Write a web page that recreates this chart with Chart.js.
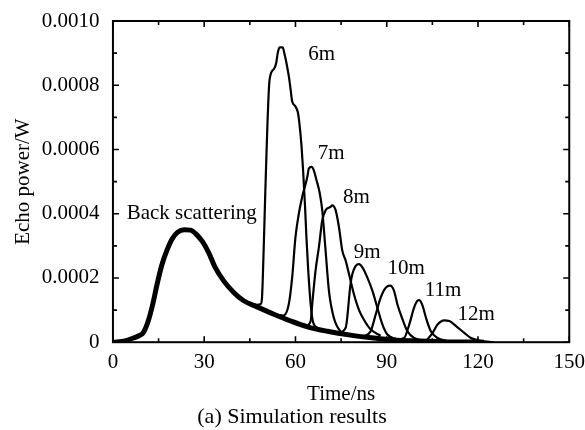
<!DOCTYPE html>
<html>
<head>
<meta charset="utf-8">
<script src="https://cdn.jsdelivr.net/npm/chart.js@4.4.1/dist/chart.umd.min.js"></script>
<style>
  html, body { margin: 0; padding: 0; background: #fff; }
  #wrap { width: 585px; height: 430px; }
</style>
</head>
<body>
<div id="wrap"><canvas id="echoChart"></canvas></div>
<script>
// echo power (W) against time (ns) for the back scattering and each target distance
const backTime  = [0, 4, 6.7, 8.5, 10, 11.6, 13, 14.5, 16, 17.7, 19.5, 21.2, 23.5, 25.5, 27.5, 29.5, 31.5, 33.6, 36.4, 39.7, 43, 47.4, 52.9, 58.4, 63.9, 70.5, 78.1, 85.8, 92.4, 100, 110, 122];
const backPower = [0, 0.000004, 0.000013, 0.00002, 0.00003, 0.000066, 0.000115, 0.00018, 0.000238, 0.000285, 0.000322, 0.000342, 0.00035, 0.000349, 0.000335, 0.000312, 0.000278, 0.000233, 0.000191, 0.000155, 0.000129, 0.00011, 0.000087, 0.000066, 0.000048, 0.000034, 0.000022, 0.000013, 0.000007, 0.000004, 0.000001, 0];

const time6m  = [44, 47.4, 48.6, 49.0, 49.6, 50.1, 51.5, 52.9, 53.7, 54.2, 54.8, 55.8, 56.4, 57.0, 57.8, 58.4, 58.9, 60.0, 60.8, 61.4, 62.0, 62.5, 63.1, 63.6, 64.2, 65.0, 65.7, 67.2, 70.5];
const power6m = [0.000125, 0.000116, 0.000119, 0.000139, 0.000306, 0.000473, 0.000818, 0.00085, 0.000871, 0.000902, 0.000918, 0.000918, 0.000897, 0.000871, 0.000829, 0.000787, 0.00075, 0.000734, 0.000715, 0.000672, 0.000609, 0.000536, 0.000432, 0.000327, 0.000223, 0.000118, 0.000066, 0.000045, 0.000034];

const time7m  = [54, 56, 57.8, 58.9, 60.0, 61.1, 62.2, 63.9, 64.4, 65.3, 66.0, 66.9, 68.0, 68.8, 69.9, 71.0, 72.6, 74.8, 78];
const power7m = [0.000085, 0.000083, 0.000118, 0.0002, 0.000327, 0.0004, 0.000452, 0.000515, 0.000541, 0.000546, 0.000536, 0.000505, 0.000463, 0.000411, 0.000285, 0.00016, 0.000076, 0.000034, 0.000022];

const time8m  = [63.5, 65.0, 65.5, 66.6, 67.7, 68.8, 69.9, 71.5, 72.1, 73.2, 74.3, 75.4, 76.5, 77.6, 79.2, 80.9, 82.5, 84.7, 88];
const power8m = [0.00005, 0.000066, 0.000118, 0.000223, 0.000296, 0.000379, 0.000411, 0.000421, 0.000426, 0.000411, 0.000358, 0.000285, 0.000254, 0.000212, 0.00015, 0.0001, 0.00007, 0.00004, 0.00002];

const time9m  = [74, 76.5, 78.1, 78.7, 79.8, 80.9, 82.0, 83.6, 85.3, 86.9, 88.6, 90.2, 93];
const power9m = [0.000028, 0.000045, 0.000181, 0.000212, 0.000238, 0.000243, 0.000233, 0.000202, 0.00016, 0.000108, 0.000055, 0.000024, 0.00001];

const time10m  = [82, 84.7, 86.4, 88.0, 89.7, 91.1, 92.4, 93.5, 95.2, 96.8, 99, 102];
const power10m = [0.000016, 0.000034, 0.000087, 0.000139, 0.00017, 0.000176, 0.00016, 0.000118, 0.000071, 0.000034, 0.000013, 0.000005];

const time11m  = [93, 95.7, 97.4, 99.0, 100.1, 100.7, 101.8, 102.9, 104.5, 106.7, 110];
const power11m = [0.000008, 0.000013, 0.000055, 0.000108, 0.000129, 0.000131, 0.000113, 0.000076, 0.000034, 0.000013, 0.000003];

const time12m  = [103, 105.1, 106.7, 108.9, 110.6, 112.8, 115.5, 117.7, 121, 125];
const power12m = [0.000005, 0.000029, 0.000055, 0.000068, 0.000066, 0.00005, 0.000029, 0.000013, 0.000004, 0];

// text placed next to the curves, in data units
const curveLabels = [
  { text: 'Back scattering', x: 25.9, y: 0.000401 },
  { text: '6m',  x: 68.6,  y: 0.000897 },
  { text: '7m',  x: 71.7,  y: 0.000586 },
  { text: '8m',  x: 80.0,  y: 0.000451 },
  { text: '9m',  x: 83.6,  y: 0.000279 },
  { text: '10m', x: 96.4,  y: 0.000229 },
  { text: '11m', x: 108.5, y: 0.00016 },
  { text: '12m', x: 119.4, y: 0.000085 }
];

const xMajor = 30, xMinor = 15;
const yMajor = 0.0002, yMinor = 0.0001;
const FONT = '"Liberation Serif", "Times New Roman", serif';

function points(ts, vs) {
  return ts.map((t, i) => ({ x: t, y: vs[i] }));
}

function thin(ts, vs) {
  return {
    data: points(ts, vs),
    borderColor: '#000',
    borderWidth: 2.2,
    pointRadius: 0,
    cubicInterpolationMode: 'monotone',
    fill: false
  };
}

// box round the plot with inward major/minor ticks on all four sides
const frameTicks = {
  id: 'frameTicks',
  afterDatasetsDraw(chart) {
    const { ctx, chartArea: a, scales: { x, y } } = chart;
    ctx.save();
    ctx.strokeStyle = '#000';
    ctx.lineWidth = 2;
    ctx.strokeRect(a.left, a.top, a.right - a.left, a.bottom - a.top);
    ctx.lineWidth = 1.6;
    ctx.beginPath();
    for (let t = 0; t <= x.max + 1e-9; t += xMinor) {
      const px = x.getPixelForValue(t);
      const len = Math.abs(t % xMajor) < 1e-9 ? 6 : 4;
      ctx.moveTo(px, a.bottom); ctx.lineTo(px, a.bottom - len);
      ctx.moveTo(px, a.top); ctx.lineTo(px, a.top + len);
    }
    for (let k = 0; k * yMinor <= y.max + 1e-12; k++) {
      const py = y.getPixelForValue(k * yMinor);
      const len = k % Math.round(yMajor / yMinor) === 0 ? 6 : 4;
      ctx.moveTo(a.left, py); ctx.lineTo(a.left + len, py);
      ctx.moveTo(a.right, py); ctx.lineTo(a.right - len, py);
    }
    ctx.stroke();

    ctx.fillStyle = '#000';
    ctx.font = '21px ' + FONT;
    ctx.textAlign = 'center';
    ctx.textBaseline = 'middle';
    curveLabels.forEach(l => {
      ctx.fillText(l.text, x.getPixelForValue(l.x), y.getPixelForValue(l.y));
    });
    ctx.restore();
  }
};

new Chart(document.getElementById('echoChart'), {
  type: 'line',
  data: {
    datasets: [
      {
        data: points(backTime, backPower),
        borderColor: '#000',
        borderWidth: 5,
        pointRadius: 0,
        cubicInterpolationMode: 'monotone',
        fill: false
      },
      thin(time6m, power6m),
      thin(time7m, power7m),
      thin(time8m, power8m),
      thin(time9m, power9m),
      thin(time10m, power10m),
      thin(time11m, power11m),
      thin(time12m, power12m)
    ]
  },
  options: {
    responsive: true,
    maintainAspectRatio: false,
    animation: false,
    layout: { padding: { top: 21, right: 12, bottom: 0, left: 11 } },
    plugins: {
      legend: { display: false },
      tooltip: { enabled: false },
      title: {
        display: true,
        position: 'bottom',
        text: '(a) Simulation results',
        color: '#000',
        font: { family: FONT, size: 22, weight: 'normal' },
        padding: { top: 0, bottom: 0 }
      }
    },
    scales: {
      x: {
        type: 'linear',
        min: 0,
        max: 150,
        grid: { display: false },
        border: { display: false },
        ticks: {
          stepSize: xMajor,
          color: '#000',
          padding: 0,
          font: { family: FONT, size: 21 }
        },
        title: {
          display: true,
          text: 'Time/ns',
          color: '#000',
          padding: { top: 6, bottom: -3 },
          font: { family: FONT, size: 21 }
        }
      },
      y: {
        min: 0,
        max: 0.001,
        grid: { display: false },
        border: { display: false },
        ticks: {
          stepSize: yMajor,
          color: '#000',
          padding: 5.5,
          font: { family: FONT, size: 21 },
          callback: v => v === 0 ? '0' : v.toFixed(4)
        },
        title: {
          display: true,
          text: 'Echo power/W',
          color: '#000',
          padding: { top: 0, bottom: 0 },
          font: { family: FONT, size: 21 }
        }
      }
    }
  },
  plugins: [frameTicks]
});
</script>
</body>
</html>
